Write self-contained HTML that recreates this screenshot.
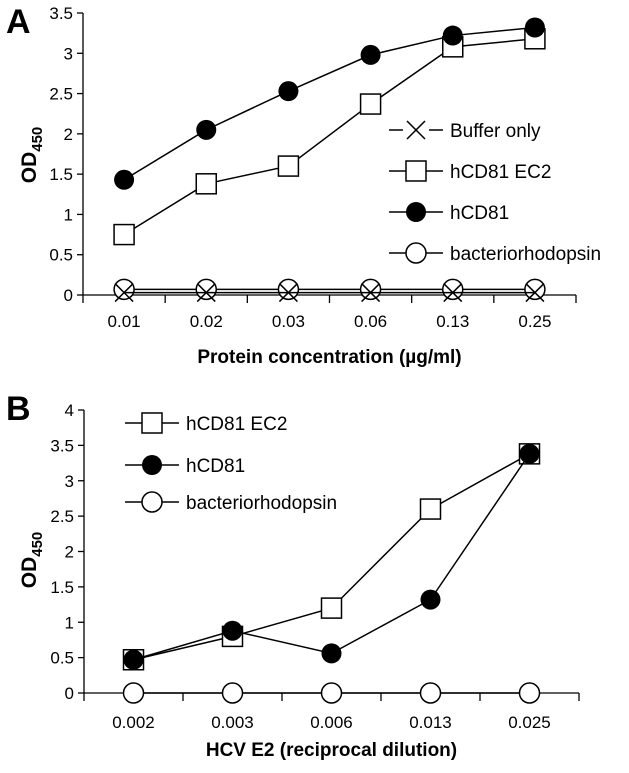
<!DOCTYPE html>
<html><head><meta charset="utf-8"><style>
body{margin:0;background:#fff;}
svg{font-family:"Liberation Sans",Arial,sans-serif;}
</style></head><body>
<svg id="c" width="629" height="768" viewBox="0 0 629 768" xmlns="http://www.w3.org/2000/svg"></svg>
<script>
// Panel A data
const catsA = ["0.01","0.02","0.03","0.06","0.13","0.25"];
const ticksA = [0,0.5,1,1.5,2,2.5,3,3.5];
const bufferA = [0.03,0.03,0.03,0.03,0.03,0.03];
const ec2A = [0.75,1.38,1.6,2.37,3.08,3.18];
const cd81A = [1.43,2.05,2.53,2.98,3.22,3.32];
const brA = [0.07,0.07,0.07,0.07,0.07,0.07];
// Panel B data
const catsB = ["0.002","0.003","0.006","0.013","0.025"];
const ticksB = [0,0.5,1,1.5,2,2.5,3,3.5,4];
const ec2B = [0.47,0.8,1.2,2.6,3.38];
const cd81B = [0.47,0.88,0.56,1.32,3.38];
const brB = [0,0,0,0,0];

const NS="http://www.w3.org/2000/svg";
const svg=document.getElementById('c');
function mk(tag,attrs,parent,text){const e=document.createElementNS(NS,tag);for(const k in attrs)e.setAttribute(k,attrs[k]);if(text!==undefined)e.textContent=text;(parent||svg).appendChild(e);return e;}

function marker(g,type,x,y){
  let m;
  if(type==='square'){m=mk('rect',{x:x-10,y:y-10,width:20,height:20,fill:'#fff',stroke:'#000','stroke-width':1.5},g);}
  else if(type==='dot'){m=mk('circle',{cx:x,cy:y,r:10,fill:'#000'},g);}
  else if(type==='circle'){m=mk('circle',{cx:x,cy:y,r:10,fill:'#fff',stroke:'#000','stroke-width':1.5},g);}
  else {m=mk('path',{d:`M${x-9} ${y-9}L${x+9} ${y+9}M${x+9} ${y-9}L${x-9} ${y+9}`,stroke:'#000','stroke-width':1.5,fill:'none'},g);}
  
  
}

function panel(o){
  const g=mk('g',{});
  
  
  const n=o.cats.length, cw=(o.x1-o.x0)/n;
  const xs=i=>o.x0+cw*(i+0.5);
  const ys=v=>o.y0-(v/o.ymax)*(o.y0-o.yTop);
  const ax=mk('path',{d:`M${o.x0} ${o.yTop}V${o.y0}M${o.x0} ${o.y0}H${o.x1}`,stroke:'#000','stroke-width':1.3,fill:'none'},g);
  
  
  o.ticks.forEach(t=>{
    mk('line',{x1:o.x0-6,x2:o.x0,y1:ys(t),y2:ys(t),stroke:'#000','stroke-width':1.3},g);
    const l=mk('text',{x:o.x0-10,y:ys(t)+6,'text-anchor':'end','font-size':17},g,String(t));
    
    
  });
  for(let i=0;i<=n;i++){mk('line',{x1:o.x0+cw*i,x2:o.x0+cw*i,y1:o.y0,y2:o.y0+8,stroke:'#000','stroke-width':1.3},g);}
  o.cats.forEach((c,i)=>{
    const l=mk('text',{x:xs(i),y:o.tickY,'text-anchor':'middle','font-size':17},g,c);
    
    
  });
  o.series.forEach(s=>{
    const sg=mk('g',{},g);
    
    
    mk('polyline',{points:s.data.map((v,i)=>xs(i)+','+ys(v)).join(' '),fill:'none',stroke:'#000','stroke-width':1.5},sg);
    s.data.forEach((v,i)=>marker(sg,s.type,xs(i),ys(v)));
  });
  o.legend.forEach((s,i)=>{
    const lg=mk('g',{},g);
    
    
    const y=o.legY[i];
    mk('line',{x1:o.legX,x2:o.legX+54,y1:y,y2:y,stroke:'#000','stroke-width':1.5},lg);
    if(s.type==='x'){mk('rect',{x:o.legX+14,y:y-6,width:26,height:12,fill:'#fff'},lg);}
    marker(lg,s.type,o.legX+27,y);
    mk('text',{x:o.legX+61,y:y+7,'font-size':19},lg,s.label);
  });
  const yt=mk('text',{transform:`translate(${o.ylabX},${o.ylabY}) rotate(-90)`,'text-anchor':'middle','font-size':21,'font-weight':'bold'},g);
  
  
  yt.innerHTML='OD<tspan font-size="15" dy="6">450</tspan>';
  const xt=mk('text',{x:(o.x0+o.x1)/2,y:o.xtY,'text-anchor':'middle','font-size':19,'font-weight':'bold'},g,o.xtitle);
  
  
  const pl=mk('text',{x:6,y:o.letterY,'font-size':34,'font-weight':'bold'},g,o.letter);
  
  
}

panel({name:'panel-a',cats:catsA,ticks:ticksA,ymax:3.5,x0:83,x1:576,y0:295,yTop:13,tickY:327,
  series:[{id:'bacteriorhodopsin',type:'circle',data:brA},{id:'buffer',type:'x',data:bufferA},{id:'hcd81-ec2',type:'square',data:ec2A},{id:'hcd81',type:'dot',data:cd81A}],
  legend:[{type:'x',label:'Buffer only'},{type:'square',label:'hCD81 EC2'},{type:'dot',label:'hCD81'},{type:'circle',label:'bacteriorhodopsin'}],
  legX:389,legY:[130,171,212,253],ylabX:36,ylabY:155,xtY:363,xtitle:'Protein concentration (µg/ml)',letter:'A',letterY:33});
panel({name:'panel-b',cats:catsB,ticks:ticksB,ymax:4,x0:84,x1:579,y0:693,yTop:410,tickY:728,
  series:[{id:'bacteriorhodopsin',type:'circle',data:brB},{id:'hcd81-ec2',type:'square',data:ec2B},{id:'hcd81',type:'dot',data:cd81B}],
  legend:[{type:'square',label:'hCD81 EC2'},{type:'dot',label:'hCD81'},{type:'circle',label:'bacteriorhodopsin'}],
  legX:125,legY:[423,465,502],ylabX:36,ylabY:560,xtY:756,xtitle:'HCV E2 (reciprocal dilution)',letter:'B',letterY:420});
</script>
</body></html>
